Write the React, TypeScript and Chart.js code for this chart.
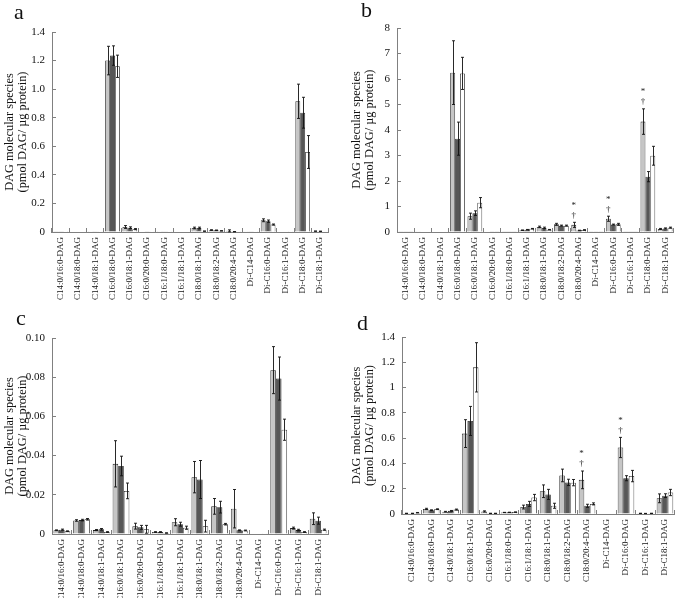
import React, { useEffect, useRef } from 'react';
import { Chart, registerables } from 'chart.js';

Chart.register(...registerables);

const FONT = '"Liberation Serif", "Times New Roman", serif';

const catsAB = ['C14:0/16:0-DAG', 'C14:0/18:0-DAG', 'C14:0/18:1-DAG', 'C16:0/18:0-DAG', 'C16:0/18:1-DAG', 'C16:0/20:0-DAG', 'C16:1/18:0-DAG', 'C16:1/18:1-DAG', 'C18:0/18:1-DAG', 'C18:0/18:2-DAG', 'C18:0/20:4-DAG', 'Di-C14-DAG', 'Di-C16:0-DAG', 'Di-C16:1-DAG', 'Di-C18:0-DAG', 'Di-C18:1-DAG'];
const catsCD = ['C14:0/16:0-DAG', 'C14:0/18:0-DAG', 'C14:0/18:1-DAG', 'C16:0/18:1-DAG', 'C16:0/20:0-DAG', 'C16:1/18:0-DAG', 'C16:1/18:1-DAG', 'C18:0/18:1-DAG', 'C18:0/18:2-DAG', 'C18:0/20:4-DAG', 'Di-C14-DAG', 'Di-C16:0-DAG', 'Di-C16:1-DAG', 'Di-C18:1-DAG'];

// Panel a
const aLight = [0.002, 0.004, 0.001, 1.2, 0.035, 0.003, 0.001, 0.004, 0.028, 0.013, 0.008, 0.001, 0.082, 0.003, 0.915, 0.006];
const aDark = [0.002, 0.004, 0.001, 1.235, 0.03, 0.002, 0.001, 0.004, 0.028, 0.012, 0.002, 0.001, 0.076, 0.003, 0.835, 0.005];
const aWhite = [0.001, 0.003, 0.001, 1.16, 0.02, 0.001, 0.001, 0.003, 0.006, 0.008, 0.001, 0.001, 0.052, 0.001, 0.56, 0.003];
const aLightErr = [0, 0, 0, 0.1, 0.01, 0, 0, 0, 0.006, 0.003, 0.007, 0, 0.01, 0, 0.12, 0.001];
const aDarkErr = [0, 0, 0, 0.068, 0.006, 0, 0, 0, 0.006, 0.002, 0.001, 0, 0.008, 0, 0.108, 0.001];
const aWhiteErr = [0, 0, 0, 0.078, 0.004, 0, 0, 0, 0.001, 0.001, 0, 0, 0.004, 0, 0.115, 0];

// Panel b
const bLight = [0.01, 0.03, 0.02, 6.25, 0.62, 0.02, 0.01, 0.07, 0.2, 0.3, 0.28, 0.01, 0.52, 0.01, 4.33, 0.12];
const bDark = [0.01, 0.02, 0.02, 3.66, 0.74, 0.01, 0.01, 0.09, 0.16, 0.25, 0.06, 0.01, 0.29, 0.01, 2.17, 0.14];
const bWhite = [0.01, 0.02, 0.02, 6.22, 1.15, 0.01, 0.01, 0.13, 0.09, 0.25, 0.08, 0.01, 0.3, 0.01, 2.99, 0.17];
const bLightErr = [0, 0, 0, 1.25, 0.12, 0, 0, 0.01, 0.03, 0.04, 0.1, 0, 0.1, 0, 0.5, 0.02];
const bDarkErr = [0, 0, 0, 0.65, 0.09, 0, 0, 0.01, 0.03, 0.02, 0.01, 0, 0.02, 0, 0.2, 0.02];
const bWhiteErr = [0, 0, 0, 0.63, 0.2, 0, 0, 0.01, 0.01, 0.02, 0.01, 0, 0.04, 0, 0.37, 0.02];

// Panel c
const cLight = [0.0019, 0.0069, 0.002, 0.0358, 0.004, 0.001, 0.006, 0.029, 0.0141, 0.0129, 0.0002, 0.0836, 0.003, 0.0078];
const cDark = [0.0022, 0.0071, 0.0024, 0.0347, 0.0034, 0.001, 0.005, 0.0278, 0.0137, 0.0019, 0.0002, 0.0793, 0.002, 0.0068];
const cWhite = [0.0014, 0.0075, 0.001, 0.022, 0.0024, 0.0005, 0.0032, 0.004, 0.005, 0.0018, 0.0001, 0.0532, 0.001, 0.0022];
const cLightErr = [0.0002, 0.0004, 0.0003, 0.0118, 0.0015, 0.0002, 0.0018, 0.008, 0.004, 0.0098, 0, 0.012, 0.0005, 0.003];
const cDarkErr = [0.0003, 0.0004, 0.0004, 0.005, 0.001, 0.0002, 0.001, 0.0097, 0.003, 0.0002, 0, 0.011, 0.0004, 0.0018];
const cWhiteErr = [0.0002, 0.0004, 0.0002, 0.004, 0.002, 0.0001, 0.0008, 0.003, 0.0004, 0.0002, 0, 0.0054, 0.0002, 0.0003];

// Panel d
const dLight = [0.005, 0.04, 0.018, 0.636, 0.02, 0.012, 0.055, 0.18, 0.305, 0.27, 0.003, 0.526, 0.005, 0.124];
const dDark = [0.005, 0.03, 0.025, 0.736, 0.005, 0.013, 0.08, 0.155, 0.25, 0.065, 0.003, 0.283, 0.004, 0.145];
const dWhite = [0.01, 0.038, 0.035, 1.16, 0.005, 0.015, 0.13, 0.065, 0.248, 0.08, 0.003, 0.3, 0.005, 0.17];
const dLightErr = [0.001, 0.005, 0.003, 0.11, 0.005, 0.001, 0.015, 0.05, 0.05, 0.07, 0, 0.08, 0.001, 0.035];
const dDarkErr = [0.001, 0.003, 0.003, 0.115, 0.001, 0.001, 0.02, 0.04, 0.025, 0.012, 0, 0.02, 0.001, 0.015];
const dWhiteErr = [0.002, 0.003, 0.004, 0.195, 0.001, 0.001, 0.025, 0.02, 0.025, 0.008, 0, 0.045, 0.001, 0.025];

// significance markers: [category index, series index]
const bMarks = [[10, 0], [12, 0], [14, 0]];
const dMarks = [[9, 0], [11, 0]];

const yTitle = ['DAG molecular species', '(pmol DAG/ µg protein)'];
const seriesColors = ['#c6c6c6', '#575757', '#ffffff'];

const fmtA = (v: number) => (Math.abs(v) < 1e-9 ? '0' : v.toFixed(1));
const fmtB = (v: number) => String(Math.round(v));
const fmtC = (v: number) => (Math.abs(v) < 1e-9 ? '0' : v.toFixed(2));
const fmtD = (v: number) => (Math.abs(v) < 1e-9 ? '0' : String(+v.toFixed(1)));

function makeErrorPlugin(errors: number[][], marks: number[][]) {
  return {
    id: 'errorBarsLocal',
    afterDatasetsDraw(chart: any) {
      const ctx = chart.ctx;
      const ys = chart.scales.y;
      ctx.save();
      ctx.strokeStyle = '#111';
      ctx.lineWidth = 0.9;
      const tops: Record<string, number> = {};
      chart.data.datasets.forEach((ds: any, i: number) => {
        const meta = chart.getDatasetMeta(i);
        meta.data.forEach((el: any, j: number) => {
          const v = ds.data[j];
          const e = errors[i][j];
          const x = Math.round(el.x) + 0.5;
          if (!e) {
            tops[i + '_' + j] = ys.getPixelForValue(v);
            return;
          }
          const yt = ys.getPixelForValue(v + e);
          const yb = ys.getPixelForValue(Math.max(0, v - e));
          tops[i + '_' + j] = yt;
          ctx.beginPath();
          ctx.moveTo(x, yt);
          ctx.lineTo(x, yb);
          ctx.moveTo(x - 1.5, yt);
          ctx.lineTo(x + 1.5, yt);
          ctx.moveTo(x - 1.5, yb);
          ctx.lineTo(x + 1.5, yb);
          ctx.stroke();
        });
      });
      ctx.fillStyle = '#222';
      ctx.textAlign = 'center';
      ctx.textBaseline = 'middle';
      ctx.font = '9px ' + FONT;
      marks.forEach(([c, s]) => {
        const el = chart.getDatasetMeta(s).data[c];
        const t = tops[s + '_' + c];
        ctx.fillText('†', el.x, t - 7);
        ctx.fillText('*', el.x, t - 17);
      });
      ctx.restore();
    },
  };
}

type PanelProps = {
  left: number; top: number; width: number; height: number;
  padLeft: number; padRight: number; padTop: number;
  yWidth: number; xHeight: number;
  labels: string[]; series: number[][]; errors: number[][];
  max: number; step: number; fmt: (v: number) => string; marks: number[][];
};

function Panel(p: PanelProps) {
  const ref = useRef<HTMLCanvasElement | null>(null);
  useEffect(() => {
    if (!ref.current) return;
    const chart = new Chart(ref.current, {
      type: 'bar',
      data: {
        labels: p.labels,
        datasets: p.series.map((d, i) => ({
          data: d,
          backgroundColor: seriesColors[i],
          borderColor: '#222',
          borderWidth: 0.8,
          categoryPercentage: 0.85,
          barPercentage: 1.0,
        })),
      },
      options: {
        animation: false,
        responsive: false,
        maintainAspectRatio: false,
        layout: { padding: { left: p.padLeft, right: p.padRight, top: p.padTop, bottom: 0 } },
        plugins: { legend: { display: false }, tooltip: { enabled: false } },
        scales: {
          x: {
            type: 'category',
            offset: true,
            grid: { display: true, drawOnChartArea: false, offset: true, tickLength: -4, color: '#808080', lineWidth: 1 },
            border: { display: true, color: '#808080', width: 1 },
            ticks: { font: { family: FONT, size: 9 }, color: '#111', minRotation: 90, maxRotation: 90, padding: 9, autoSkip: false },
            afterFit: (s: any) => { s.height = p.xHeight; },
          },
          y: {
            min: 0,
            max: p.max,
            ticks: { stepSize: p.step, callback: (v: any) => p.fmt(Number(v)), font: { family: FONT, size: 11 }, color: '#111', padding: 11 },
            grid: { display: true, drawOnChartArea: false, tickLength: -4, color: '#808080' },
            border: { display: true, color: '#808080', width: 1 },
            title: { display: true, text: yTitle, font: { family: FONT, size: 12.3, lineHeight: 1.05 }, color: '#111', padding: { top: 3, bottom: 0 } },
            afterFit: (s: any) => { s.width = p.yWidth; },
          },
        },
      } as any,
      plugins: [makeErrorPlugin(p.errors, p.marks)],
    });
    return () => chart.destroy();
  }, []);
  return (
    <canvas
      ref={ref}
      width={p.width}
      height={p.height}
      style={{ position: 'absolute', left: p.left, top: p.top, width: p.width, height: p.height }}
    />
  );
}

const letterStyle = (left: number, top: number): React.CSSProperties => ({
  position: 'absolute', left, top, fontFamily: FONT, fontSize: 22, lineHeight: '22px', color: '#111',
});

export default function App() {
  return (
    <div style={{ position: 'absolute', left: 0, top: 0, width: 685, height: 598, background: '#fff', overflow: 'hidden' }}>
      <Panel left={0} top={0} width={340} height={300} padLeft={0} padRight={7} padTop={32}
        yWidth={52} xHeight={68} labels={catsAB} series={[aLight, aDark, aWhite]}
        errors={[aLightErr, aDarkErr, aWhiteErr]} max={1.4} step={0.2} fmt={fmtA} marks={[]} />
      <Panel left={340} top={0} width={345} height={300} padLeft={7} padRight={1} padTop={28}
        yWidth={50} xHeight={68} labels={catsAB} series={[bLight, bDark, bWhite]}
        errors={[bLightErr, bDarkErr, bWhiteErr]} max={8} step={1} fmt={fmtB} marks={bMarks} />
      <Panel left={0} top={300} width={340} height={298} padLeft={0} padRight={12} padTop={38}
        yWidth={52} xHeight={64} labels={catsCD} series={[cLight, cDark, cWhite]}
        errors={[cLightErr, cDarkErr, cWhiteErr]} max={0.1} step={0.02} fmt={fmtC} marks={[]} />
      <Panel left={340} top={300} width={345} height={298} padLeft={7} padRight={7} padTop={37}
        yWidth={55} xHeight={84} labels={catsCD} series={[dLight, dDark, dWhite]}
        errors={[dLightErr, dDarkErr, dWhiteErr]} max={1.4} step={0.2} fmt={fmtD} marks={dMarks} />
      <div style={letterStyle(14, 1)}>a</div>
      <div style={letterStyle(361, -1)}>b</div>
      <div style={letterStyle(16, 307)}>c</div>
      <div style={letterStyle(357, 312)}>d</div>
    </div>
  );
}
